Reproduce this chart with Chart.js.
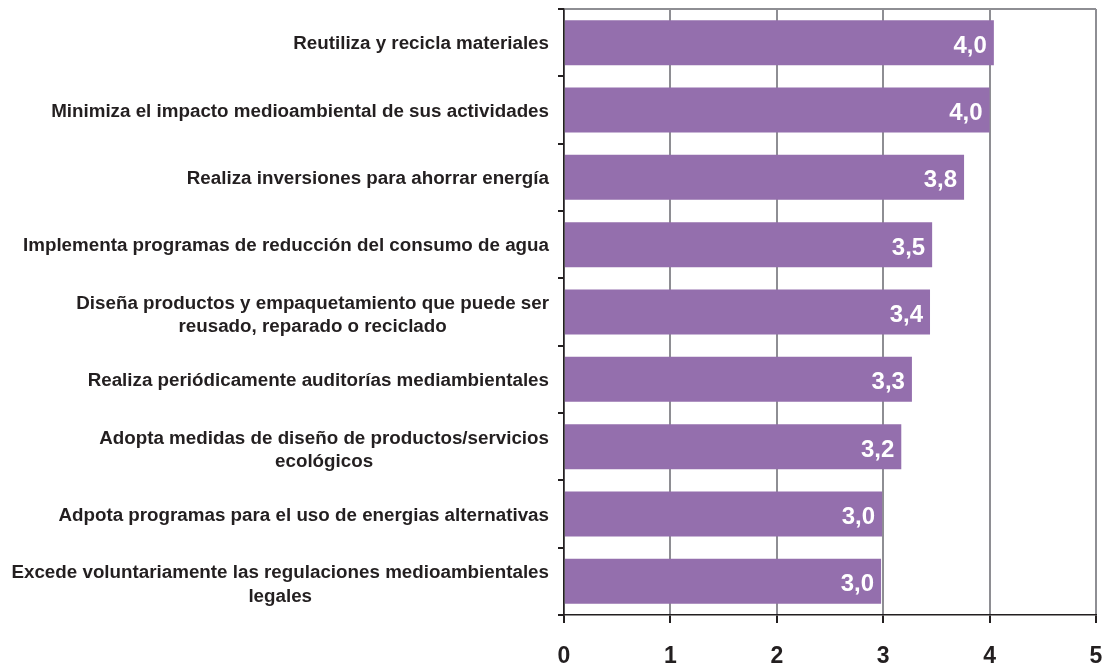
<!DOCTYPE html>
<html>
<head>
<meta charset="utf-8">
<script src="https://cdn.jsdelivr.net/npm/chart.js@4.4.1/dist/chart.umd.min.js"></script>
<style>
html,body{margin:0;padding:0;background:#fff;}
#wrap{width:1103px;height:666px;}
</style>
</head>
<body>
<div id="wrap"><canvas id="c" width="1103" height="666"></canvas></div>
<script>
const categories = [
  ["Reutiliza y recicla materiales"],
  ["Minimiza el impacto medioambiental de sus actividades"],
  ["Realiza inversiones para ahorrar energía"],
  ["Implementa programas de reducción del consumo de agua"],
  ["Diseña productos y empaquetamiento que puede ser", "reusado, reparado o reciclado"],
  ["Realiza periódicamente auditorías mediambientales"],
  ["Adopta medidas de diseño de productos/servicios", "ecológicos"],
  ["Adpota programas para el uso de energias alternativas"],
  ["Excede voluntariamente las regulaciones medioambientales", "legales"]
];
const values = [4.04, 4.00, 3.76, 3.46, 3.44, 3.27, 3.17, 2.99, 2.98];
const xTicks = [0, 1, 2, 3, 4, 5];

const DARK = '#231f20';
const GRID = '#8e8e93';
const BAR = '#946fad';
const FONT = '"Liberation Sans", Arial, sans-serif';

const labelPlugin = {
  id: 'labelPlugin',
  afterDraw(chart) {
    const ctx = chart.ctx;
    const y = chart.scales.y;
    const area = chart.chartArea;
    ctx.save();
    // category labels
    ctx.fillStyle = DARK;
    ctx.font = 'bold 18.8px ' + FONT;
    ctx.textBaseline = 'middle';
    const rightX = area.left - 15;
    const lh = 23.5;
    categories.forEach((lines, i) => {
      const cy = y.getPixelForTick(i);
      if (lines.length === 1) {
        ctx.textAlign = 'right';
        ctx.fillText(lines[0], rightX, cy + 1.5);
      } else {
        const w = Math.max(...lines.map(l => ctx.measureText(l).width));
        const cx = rightX - w / 2;
        ctx.textAlign = 'center';
        const start = cy - (lines.length - 1) * lh / 2 + 3.5;
        lines.forEach((l, k) => ctx.fillText(l, cx, start + k * lh));
      }
    });
    // value labels
    const meta = chart.getDatasetMeta(0);
    ctx.fillStyle = '#ffffff';
    ctx.font = 'bold 24px ' + FONT;
    ctx.textAlign = 'right';
    meta.data.forEach((bar, i) => {
      const txt = values[i].toFixed(1).replace('.', ',');
      ctx.fillText(txt, bar.x - 7, bar.y + 3.5);
    });
    ctx.restore();
  }
};

new Chart(document.getElementById('c'), {
  type: 'bar',
  data: {
    labels: categories.map(c => c.join(' ')),
    datasets: [{
      data: values,
      backgroundColor: BAR,
      borderWidth: 0,
      categoryPercentage: 1,
      barPercentage: 0.668
    }]
  },
  options: {
    indexAxis: 'y',
    responsive: false,
    animation: false,
    events: [],
    layout: { padding: { top: 9, right: 7, bottom: 0, left: 0 } },
    plugins: { legend: { display: false }, tooltip: { enabled: false } },
    scales: {
      x: {
        min: 0, max: 5,
        afterBuildTicks(scale) { scale.ticks = xTicks.map(v => ({ value: v })); },
        afterFit(scale) {
          scale.height = 51;
          scale.paddingLeft = 0;
          scale.paddingRight = 0;
        },
        border: { display: true, color: DARK, width: 1.5 },
        grid: {
          color: GRID, lineWidth: 2,
          tickColor: DARK, tickLength: 8, drawTicks: true
        },
        ticks: {
          color: DARK,
          font: { family: FONT, size: 23, weight: 'bold', lineHeight: 1 },
          padding: 22,
          maxRotation: 0
        }
      },
      y: {
        afterFit(scale) { scale.width = 564; scale.paddingTop = 0; scale.paddingBottom = 0; },
        border: { display: true, color: DARK, width: 1.5 },
        grid: {
          offset: true,
          drawOnChartArea: true,
          color: c => (c.index === 0 ? GRID : 'rgba(0,0,0,0)'),
          lineWidth: 2,
          tickColor: DARK,
          tickLength: 6
        },
        ticks: { display: false }
      }
    }
  },
  plugins: [labelPlugin]
});
</script>
</body>
</html>
